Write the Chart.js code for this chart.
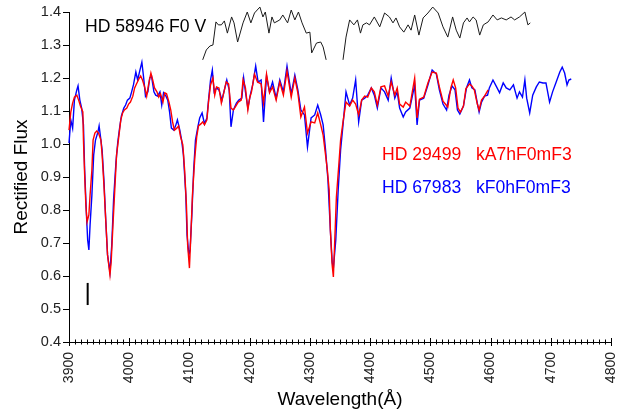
<!DOCTYPE html>
<html>
<head>
<meta charset="utf-8">
<script src="https://cdn.jsdelivr.net/npm/chart.js@4/dist/chart.umd.min.js"></script>
<style>
  body { margin: 0; background: #fff; }
  #wrap { width: 633px; height: 414px; position: relative; }
</style>
</head>
<body>
<div id="wrap"><canvas id="spec"></canvas></div>
<script>
// wavelength (A), rectified flux
const hd29499 = [
  [3900,1.042],[3903,1.097],[3906,1.124],[3909,1.142],[3913,1.148],[3916,1.133],[3919,1.115],[3923,1.097],[3924,1.012],[3926,0.906],
  [3928,0.815],[3930,0.764],[3933,0.785],[3935,0.845],[3938,0.921],[3940,1.012],[3943,1.033],[3946,1.039],[3949,1.033],[3953,1.012],
  [3955,0.967],[3958,0.876],[3961,0.770],[3964,0.664],[3968,0.603],[3970,0.642],[3973,0.755],[3976,0.861],[3979,0.967],[3983,1.027],
  [3986,1.073],[3989,1.094],[3992,1.103],[3996,1.109],[3999,1.121],[4002,1.127],[4006,1.145],[4009,1.170],[4012,1.182],[4016,1.197],
  [4019,1.206],[4022,1.194],[4026,1.170],[4029,1.145],[4032,1.179],[4036,1.215],[4039,1.194],[4042,1.170],[4046,1.158],[4049,1.142],
  [4052,1.152],[4056,1.127],[4059,1.155],[4062,1.152],[4066,1.127],[4069,1.103],[4072,1.067],[4075,1.042],[4079,1.048],[4082,1.055],
  [4085,1.024],[4089,0.997],[4092,0.921],[4095,0.815],[4097,0.694],[4100,0.624],[4102,0.709],[4105,0.845],[4109,0.961],[4112,1.021],
  [4115,1.055],[4119,1.061],[4122,1.067],[4125,1.058],[4129,1.073],[4132,1.133],[4135,1.179],[4139,1.200],[4142,1.148],[4145,1.173],
  [4149,1.170],[4153,1.124],[4157,1.155],[4161,1.188],[4165,1.182],[4169,1.109],[4173,1.103],[4177,1.115],[4181,1.127],[4186,1.133],
  [4189,1.194],[4193,1.170],[4197,1.103],[4200,1.139],[4203,1.158],[4208,1.212],[4213,1.188],[4219,1.182],[4223,1.124],[4228,1.212],
  [4233,1.155],[4238,1.173],[4244,1.133],[4250,1.188],[4256,1.148],[4262,1.221],[4269,1.142],[4275,1.200],[4280,1.155],[4285,1.082],
  [4291,1.112],[4296,1.033],[4302,1.067],[4308,1.064],[4313,1.094],[4318,1.058],[4322,1.027],[4326,0.967],[4329,0.921],[4332,0.861],
  [4334,0.739],[4337,0.633],[4339,0.597],[4341,0.694],[4344,0.839],[4348,0.936],[4351,1.012],[4355,1.067],[4360,1.127],[4366,1.115],
  [4371,1.133],[4376,1.121],[4381,1.088],[4386,1.133],[4391,1.145],[4396,1.142],[4402,1.170],[4407,1.158],[4412,1.118],[4418,1.173],
  [4424,1.176],[4430,1.145],[4435,1.188],[4441,1.148],[4445,1.170],[4449,1.121],[4455,1.112],[4459,1.127],[4466,1.115],[4474,1.200],
  [4478,1.079],[4482,1.136],[4489,1.142],[4496,1.185],[4503,1.218],[4510,1.215],[4515,1.173],[4521,1.130],[4529,1.112],[4534,1.170],
  [4538,1.194],[4542,1.170],[4546,1.109],[4550,1.097],[4555,1.115],[4559,1.167],[4565,1.182],[4569,1.176],[4573,1.164],[4578,1.121],
  [4581,1.103],[4585,1.133],[4590,1.145],[4596,1.164]
];

const hd67983 = [
  [3900,1.003],[3903,1.073],[3906,1.048],[3909,1.133],[3913,1.164],[3915,1.176],[3918,1.133],[3921,1.109],[3924,1.058],[3926,0.921],
  [3929,0.785],[3931,0.709],[3933,0.679],[3935,0.755],[3938,0.845],[3941,0.967],[3944,1.012],[3948,1.036],[3950,1.055],[3953,1.012],
  [3955,0.982],[3958,0.891],[3961,0.770],[3964,0.664],[3968,0.612],[3971,0.694],[3974,0.830],[3978,0.945],[3981,1.006],[3984,1.048],
  [3987,1.085],[3991,1.109],[3994,1.118],[3997,1.133],[4001,1.139],[4004,1.158],[4007,1.179],[4011,1.218],[4014,1.194],[4017,1.218],
  [4021,1.248],[4024,1.200],[4027,1.145],[4031,1.158],[4034,1.200],[4037,1.206],[4041,1.158],[4044,1.148],[4047,1.145],[4051,1.158],
  [4054,1.118],[4057,1.155],[4061,1.145],[4064,1.133],[4067,1.097],[4070,1.048],[4074,1.042],[4077,1.055],[4080,1.073],[4084,1.042],
  [4087,1.012],[4090,0.967],[4094,0.845],[4096,0.724],[4099,0.664],[4101,0.679],[4104,0.785],[4107,0.921],[4110,1.012],[4114,1.052],
  [4117,1.079],[4121,1.094],[4125,1.061],[4129,1.079],[4132,1.139],[4135,1.194],[4138,1.224],[4141,1.158],[4145,1.170],[4149,1.164],
  [4154,1.133],[4158,1.164],[4162,1.194],[4166,1.164],[4169,1.052],[4173,1.103],[4178,1.124],[4182,1.133],[4187,1.139],[4190,1.200],
  [4193,1.158],[4197,1.109],[4201,1.148],[4205,1.179],[4210,1.236],[4214,1.188],[4219,1.194],[4223,1.067],[4228,1.206],[4233,1.158],
  [4238,1.188],[4244,1.139],[4250,1.194],[4256,1.158],[4262,1.236],[4269,1.152],[4275,1.209],[4280,1.164],[4285,1.103],[4291,1.088],
  [4296,0.991],[4302,1.079],[4308,1.088],[4313,1.118],[4318,1.088],[4322,1.058],[4326,0.982],[4330,0.891],[4334,0.739],[4337,0.642],
  [4339,0.624],[4343,0.709],[4347,0.861],[4351,0.982],[4355,1.058],[4360,1.158],[4366,1.118],[4371,1.139],[4376,1.194],[4381,1.067],
  [4386,1.133],[4391,1.139],[4396,1.148],[4402,1.170],[4407,1.148],[4412,1.109],[4418,1.170],[4424,1.158],[4430,1.133],[4435,1.200],
  [4441,1.139],[4445,1.158],[4449,1.109],[4455,1.082],[4459,1.097],[4466,1.109],[4474,1.179],[4478,1.058],[4482,1.133],[4489,1.139],
  [4496,1.179],[4503,1.224],[4510,1.212],[4515,1.164],[4521,1.121],[4527,1.103],[4531,1.148],[4536,1.176],[4541,1.164],[4545,1.103],
  [4549,1.091],[4555,1.115],[4560,1.170],[4565,1.194],[4569,1.170],[4574,1.164],[4578,1.124],[4581,1.097],[4585,1.127],[4590,1.145],
  [4595,1.148],[4598,1.170],[4604,1.194],[4610,1.173],[4615,1.155],[4621,1.185],[4626,1.170],[4632,1.164],[4638,1.179],[4644,1.139],
  [4648,1.158],[4653,1.142],[4657,1.194],[4660,1.139],[4665,1.094],[4670,1.148],[4676,1.173],[4681,1.188],[4687,1.185],[4692,1.185],
  [4698,1.127],[4703,1.158],[4709,1.188],[4715,1.218],[4719,1.233],[4723,1.215],[4727,1.179],[4730,1.194],[4734,1.197]
];

// offset standard, null marks the gap around H-gamma
const hd58946 = [
  [4122,1.255],[4128,1.285],[4134,1.297],[4139,1.300],[4144,1.370],[4148,1.361],[4153,1.361],[4158,1.373],[4163,1.336],[4170,1.385],
  [4174,1.367],[4180,1.309],[4189,1.367],[4196,1.400],[4202,1.367],[4208,1.397],[4217,1.415],[4222,1.385],[4226,1.400],[4232,1.336],
  [4237,1.385],[4241,1.367],[4250,1.376],[4255,1.391],[4263,1.367],[4269,1.406],[4275,1.376],[4281,1.400],[4287,1.367],[4294,1.336],
  [4300,1.339],[4303,1.276],[4311,1.306],[4318,1.309],[4322,1.294],[4327,1.255],[4340,null],
  [4355,1.255],[4360,1.324],[4366,1.376],[4373,1.361],[4379,1.376],[4384,1.336],[4388,1.361],[4394,1.367],[4399,1.361],[4407,1.385],
  [4416,1.355],[4424,1.397],[4432,1.385],[4438,1.367],[4443,1.382],[4449,1.355],[4456,1.339],[4463,1.361],[4468,1.345],[4474,1.391],
  [4481,1.330],[4488,1.382],[4496,1.397],[4504,1.415],[4513,1.397],[4521,1.355],[4529,1.324],[4537,1.385],[4543,1.345],[4549,1.321],
  [4555,1.367],[4561,1.382],[4565,1.370],[4571,1.385],[4576,1.376],[4582,1.330],[4588,1.361],[4596,1.370],[4604,1.391],[4611,1.376],
  [4618,1.382],[4626,1.376],[4634,1.385],[4640,1.376],[4648,1.385],[4657,1.400],[4662,1.361],[4666,1.367]
];

// Ca II K marker
const caMarker = [[3931, 0.512], [3931, 0.579]];

const xTicks = [3900, 4800, 100];
const yTicks = [0.4, 1.4, 0.1];

const labels = [
  { text: 'HD 58946 F0 V', color: '#000' },
  { text: 'HD 29499   kA7hF0mF3', color: '#ff0000' },
  { text: 'HD 67983   kF0hF0mF3', color: '#0000ff' }
];

const toXY = arr => arr.map(p => ({ x: p[0], y: p[1] }));

const axisTicks = {
  id: 'axisTicks',
  afterDraw(chart) {
    const { ctx, chartArea: a, scales: { x, y } } = chart;
    ctx.save();
    ctx.strokeStyle = '#000';
    ctx.lineWidth = 1;
    ctx.beginPath();
    for (let v = yTicks[0]; v <= yTicks[1] + 1e-6; v += yTicks[2]) {
      const py = Math.round(y.getPixelForValue(v)) + 0.5;
      ctx.moveTo(a.left - 6, py);
      ctx.lineTo(a.left + 1, py);
    }
    for (let w = xTicks[0]; w <= xTicks[1]; w += 10) {
      const px = Math.round(x.getPixelForValue(w)) + 0.5;
      const h = (w % 100 === 0) ? 4 : 2.5;
      ctx.moveTo(px, a.bottom - h);
      ctx.lineTo(px, a.bottom + h);
    }
    ctx.stroke();

    ctx.font = '17.6px "Liberation Sans", Arial, sans-serif';
    ctx.textBaseline = 'alphabetic';
    ctx.fillStyle = labels[0].color;
    ctx.fillText(labels[0].text, 85, 32);
    ctx.fillStyle = labels[1].color;
    ctx.fillText(labels[1].text, 382, 160);
    ctx.fillStyle = labels[2].color;
    ctx.fillText(labels[2].text, 382, 193);
    ctx.restore();
  }
};

const lineDs = (data, color, width, order) => ({
  data: toXY(data),
  borderColor: color,
  borderWidth: width,
  pointRadius: 0,
  tension: 0,
  fill: false,
  clip: false,
  spanGaps: false,
  order: order
});

document.addEventListener('DOMContentLoaded', () => {
  const ctx = document.getElementById('spec').getContext('2d');
  new Chart(ctx, {
    type: 'line',
    data: {
      datasets: [
        lineDs(hd29499, '#ff0000', 1.4, 1),
        lineDs(hd67983, '#0000ff', 1.4, 2),
        lineDs(hd58946, '#1a1a1a', 1, 3),
        lineDs(caMarker, '#000', 2, 4)
      ]
    },
    options: {
      responsive: true,
      maintainAspectRatio: false,
      animation: false,
      layout: { autoPadding: false, padding: { top: 12, right: 22, left: 0, bottom: 0 } },
      plugins: {
        legend: { display: false },
        tooltip: { enabled: false }
      },
      scales: {
        x: {
          type: 'linear',
          min: xTicks[0],
          max: xTicks[1],
          grid: { display: false, drawTicks: false },
          border: { display: true, color: '#000', width: 1 },
          ticks: {
            stepSize: xTicks[2],
            minRotation: 90,
            maxRotation: 90,
            padding: 10,
            color: '#222',
            font: { family: '"Liberation Sans", Arial, sans-serif', size: 14 },
            callback: v => String(v)
          },
          title: {
            display: true,
            text: 'Wavelength(Å)',
            color: '#000',
            font: { family: '"Liberation Sans", Arial, sans-serif', size: 19 },
            padding: { top: 0, bottom: 3 }
          },
          afterFit: s => {
            s.height = 72;
            s.paddingLeft = 0;
            s.paddingRight = 0;
          }
        },
        y: {
          min: yTicks[0],
          max: yTicks[1],
          grid: { display: false, drawTicks: false },
          border: { display: true, color: '#000', width: 1 },
          ticks: {
            stepSize: yTicks[2],
            padding: 8,
            color: '#222',
            font: { family: '"Liberation Sans", Arial, sans-serif', size: 14.5 },
            callback: v => Number(v).toFixed(1)
          },
          title: {
            display: true,
            text: 'Rectified Flux',
            color: '#000',
            font: { family: '"Liberation Sans", Arial, sans-serif', size: 19 },
            padding: { top: 10, bottom: 0 }
          },
          afterFit: s => {
            s.width = 69;
            s.paddingTop = 0;
            s.paddingBottom = 0;
          }
        }
      }
    },
    plugins: [axisTicks]
  });
});
</script>
</body>
</html>
